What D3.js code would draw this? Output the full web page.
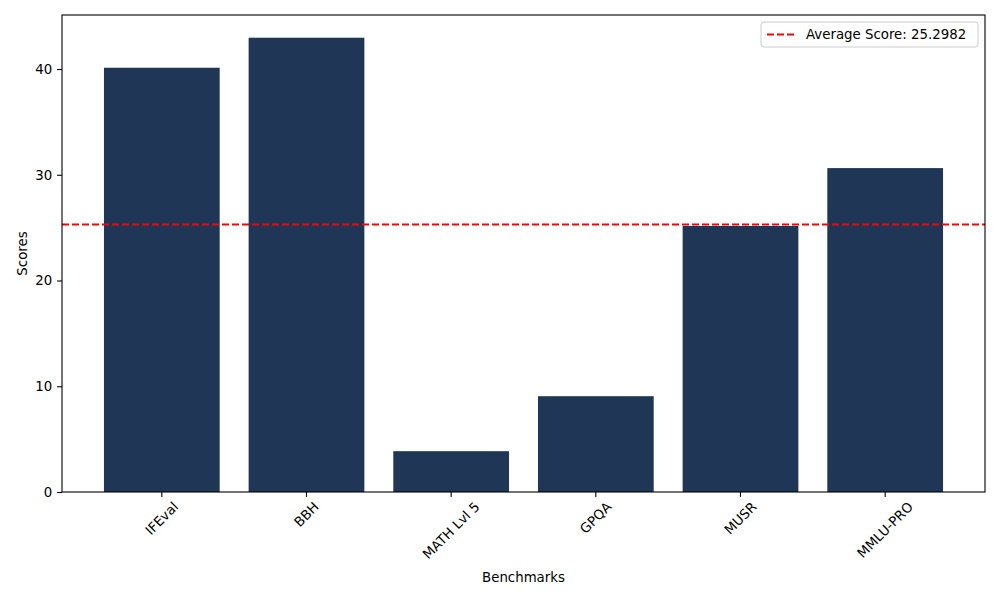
<!DOCTYPE html>
<html>
<head>
<meta charset="utf-8">
<script src="https://cdn.jsdelivr.net/npm/d3@7"></script>
<style>
  body { margin: 0; background: #fff; }
  text { font-family: "DejaVu Sans", sans-serif; }
</style>
</head>
<body>
<div class="chart"></div>
<script>
// data
var benchmarks = ["IFEval", "BBH", "MATH Lvl 5", "GPQA", "MUSR", "MMLU-PRO"];
var scores = [40.12, 42.96, 3.86, 9.06, 25.16, 30.63];
var averageScore = 25.2982;
var yTicks = [0, 10, 20, 30, 40];

var margin = {left: 62, right: 15, top: 15, bottom: 108};
var W = 1000, H = 600;
var w = W - margin.left - margin.right;
var h = H - margin.top - margin.bottom;

var svg = d3.select(".chart").append("svg")
    .attr("width", W).attr("height", H);
var g = svg.append("g").attr("transform", "translate(" + margin.left + "," + margin.top + ")");

var x = d3.scaleBand()
    .domain(benchmarks)
    .range([0, w])
    .paddingInner(0.2)
    .paddingOuter(0.29);

var y = d3.scaleLinear()
    .domain([0, d3.max(scores) * 1.05])
    .range([h, 0]);

g.selectAll(".bar")
  .data(benchmarks).enter().append("rect")
    .attr("class", "bar")
    .attr("x", function(d){ return x(d); })
    .attr("width", x.bandwidth())
    .attr("y", function(d, i){ return y(scores[i]); })
    .attr("height", function(d, i){ return h - y(scores[i]); })
    .attr("fill", "#1f3657");

// average line
g.append("line")
    .attr("x1", 0).attr("x2", w)
    .attr("y1", y(averageScore)).attr("y2", y(averageScore))
    .attr("stroke", "red")
    .attr("stroke-width", 2)
    .attr("stroke-dasharray", "7,3");

// axes
var yAxis = g.append("g").call(d3.axisLeft(y).tickValues(yTicks).tickSize(4.9).tickPadding(4.9));
var xAxis = g.append("g").attr("transform", "translate(0," + h + ")")
    .call(d3.axisBottom(x).tickSize(4.9).tickFormat(""));

[xAxis, yAxis].forEach(function(a){
  a.select(".domain").remove();
  a.selectAll("line").attr("stroke", "#000").attr("stroke-width", 1.1);
  a.selectAll("text").attr("font-size", "13.33px").attr("fill", "#000")
    .style("font-family", "DejaVu Sans");
});

// frame
g.append("rect")
    .attr("width", w).attr("height", h)
    .attr("fill", "none").attr("stroke", "#000").attr("stroke-width", 1.1);

// rotated x labels, bbox centred on tick like matplotlib
benchmarks.forEach(function(d){
  var t = g.append("text")
      .text(d)
      .attr("font-size", "13.33px")
      .attr("text-anchor", "middle")
      .attr("dominant-baseline", "central");
  var tw = t.node().getComputedTextLength();
  var th = 13.33 * 0.95;
  var bh = (tw + th) * Math.SQRT1_2;
  var cx = x(d) + x.bandwidth() / 2;
  var cy = h + 8 + bh / 2;
  t.attr("transform", "translate(" + cx + "," + cy + ") rotate(-45)");
});

// axis titles
g.append("text")
    .attr("x", w / 2).attr("y", h + 90)
    .attr("text-anchor", "middle")
    .attr("font-size", "13.33px")
    .text("Benchmarks");

g.append("text")
    .attr("transform", "translate(-35," + (h / 2) + ") rotate(-90)")
    .attr("text-anchor", "middle")
    .attr("font-size", "13.33px")
    .text("Scores");

// legend
var lg = g.append("g").attr("transform", "translate(" + (w - 224) + ",7)");
lg.append("rect")
    .attr("width", 217).attr("height", 25).attr("rx", 3)
    .attr("fill", "#fff").attr("fill-opacity", 0.8)
    .attr("stroke", "#ccc");
lg.append("line")
    .attr("x1", 6).attr("x2", 34).attr("y1", 12.5).attr("y2", 12.5)
    .attr("stroke", "red").attr("stroke-width", 2)
    .attr("stroke-dasharray", "7,3");
lg.append("text")
    .attr("x", 45).attr("y", 12.5)
    .attr("dominant-baseline", "central")
    .attr("font-size", "13.33px")
    .text("Average Score: " + averageScore);
</script>
</body>
</html>
